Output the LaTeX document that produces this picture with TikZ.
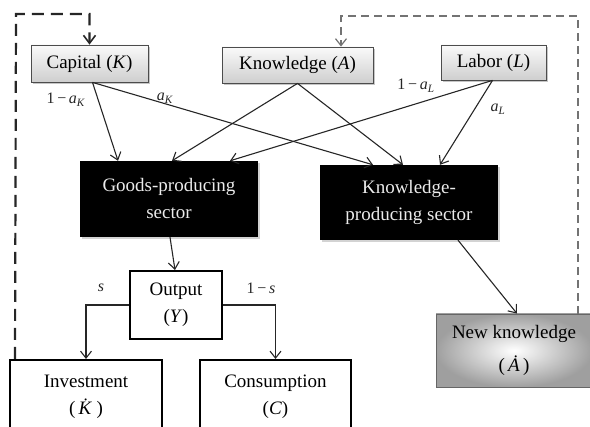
\documentclass[tikz,border=0pt]{standalone}
\usepackage{fontspec}
\setmainfont{Liberation Serif}
\usetikzlibrary{arrows.meta,shadows,calc}
\begin{document}
\begin{tikzpicture}[x=1pt,y=-1pt,
  bigfont/.style={font=\fontsize{19}{27}\selectfont},
  conn/.style={draw=black!85, line width=1.1pt, -{Straight Barb[length=7pt,width=11pt,line width=1.1pt]}},
  topbox/.style={bigfont, draw=black!70, line width=0.8pt, top color=gray!4, bottom color=gray!38, drop shadow={shadow xshift=2pt,shadow yshift=-2pt,opacity=0.45}, inner sep=0pt},
  blackbox/.style={bigfont, fill=black, text=white!92!black, align=center, drop shadow={shadow xshift=2pt,shadow yshift=-2pt,opacity=0.35}, inner sep=0pt},
  whitebox/.style={bigfont, draw=black, line width=2pt, fill=white, align=center, inner sep=0pt},
  nkbox/.style={bigfont, draw=black!60, line width=0.8pt, shading=radial, inner color=white, outer color=gray!75, align=center, inner sep=0pt},
  lbl/.style={font=\fontsize{16}{18}\selectfont, text=black!85, inner sep=0pt},
  loopA/.style={draw=black!85, line width=2.2pt, dash pattern=on 12pt off 7pt, -{Straight Barb[length=8pt,width=12pt,line width=1.6pt]}},
  loopB/.style={draw=black!55, line width=1.4pt, dash pattern=on 8pt off 5pt, -{Straight Barb[length=7pt,width=11pt,line width=1.2pt]}}
]
\useasboundingbox (0,0) rectangle (590,427);
\clip (0,0) rectangle (590,427);

% top row
\node[topbox, minimum width=117pt, minimum height=37pt] (cap) at (89.5,63.5) {Capital (\textit{K})};
\node[topbox, minimum width=151pt, minimum height=36pt] (know) at (297.5,65) {Knowledge (\textit{A})};
\node[topbox, minimum width=105pt, minimum height=35pt] (lab) at (493.5,62.5) {Labor (\textit{L})};

% sectors
\node[blackbox, minimum width=178pt, minimum height=76pt] (goods) at (169,199) {Goods-producing\\sector};
\node[blackbox, minimum width=178pt, minimum height=75pt] (kp) at (409,202.5) {Knowledge-\\producing sector};

% output and uses
\node[whitebox, minimum width=92pt, minimum height=68pt] (out) at (176,305) {Output\\(\textit{Y})};
\node[whitebox, minimum width=152pt, minimum height=74pt] (inv) at (86,397) {Investment\\(\,\textit{\.K})};
\node[whitebox, minimum width=151pt, minimum height=74pt] (con) at (275.5,397) {Consumption\\(\textit{C})};
\node[nkbox, minimum width=156pt, minimum height=73pt] (nk) at (514,350.5) {New knowledge\\[6pt](\,\textit{\.A}\,)};

% connectors from inputs
\draw[conn] ([xshift=3pt]cap.south) -- ([xshift=-51pt]goods.north);
\draw[conn] ([xshift=3pt]cap.south) -- ([xshift=-36pt]kp.north);
\draw[conn] (know.south) -- ([xshift=3pt]goods.north);
\draw[conn] (know.south) -- ([xshift=-6pt]kp.north);
\draw[conn] ([xshift=-1pt]lab.south) -- ([xshift=61pt]goods.north);
\draw[conn] ([xshift=-1pt]lab.south) -- ([xshift=31pt]kp.north);

% sectors to outputs
\draw[conn] ([xshift=1pt]goods.south) -- ([xshift=-1pt]out.north);
\draw[conn] ([xshift=49pt]kp.south) -- ([xshift=3pt]nk.north);
\draw[conn] (out.west) -| (inv.north);
\draw[conn] (out.east) -| (con.north);

% feedback loops
\coordinate (lt) at (16,14);
\coordinate (rt) at (578,16);
\draw[loopA] ([xshift=6pt]inv.north west) -- (lt) -| (cap.north);
\draw[loopB] ([xshift=64pt]nk.north) -- (rt) -| ([xshift=43.5pt]know.north);

% labels
\node[lbl] (l1) at (66,100) {1\,−\,\textit{a}\textsubscript{\textit{K}}};
\node[lbl] (l2) at (165,98) {\textit{a}\textsubscript{\textit{K}}};
\node[lbl] (l3) at (416,86) {1\,−\,\textit{a}\textsubscript{\textit{L}}};
\node[lbl] (l4) at (498,109) {\textit{a}\textsubscript{\textit{L}}};
\node[lbl] (l5) at (101,288) {\textit{s}};
\node[lbl] (l6) at (261,288) {1\,−\,\textit{s}};
\end{tikzpicture}
\end{document}
